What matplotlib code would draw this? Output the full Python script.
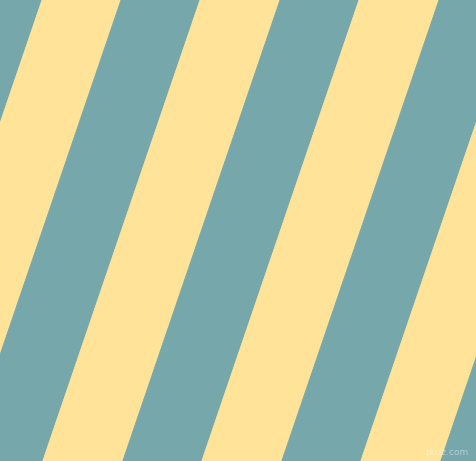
import matplotlib
matplotlib.use('Agg')
import matplotlib.pyplot as plt

# stripe boundaries along the top edge (px) and the lean of every stripe
edges_top = [-117, -37, 42, 121, 200, 280, 359, 439, 518, 598, 677]
stripe_colors = ['#fee398', '#76a7ab'] * 5
lean = 0.341   # horizontal shift per pixel going down
W, H = 476, 461

fig = plt.figure(figsize=(4.76, 4.61), dpi=100)
ax = fig.add_axes([0, 0, 1, 1])
ax.set_xlim(0, W)
ax.set_ylim(H, 0)
ax.axis('off')

shift = lean * H
for i in range(len(edges_top) - 1):
    a, b = edges_top[i], edges_top[i + 1]
    xs = [a, b, b - shift, a - shift]
    ys = [0, 0, H, H]
    ax.fill(xs, ys, color=stripe_colors[i], lw=0.6, ec=stripe_colors[i])

ax.text(468, 452, 'pixiz.com', ha='right', va='center', fontsize=6.5,
        color='white', alpha=0.45)

plt.savefig('out.png', dpi=100)
